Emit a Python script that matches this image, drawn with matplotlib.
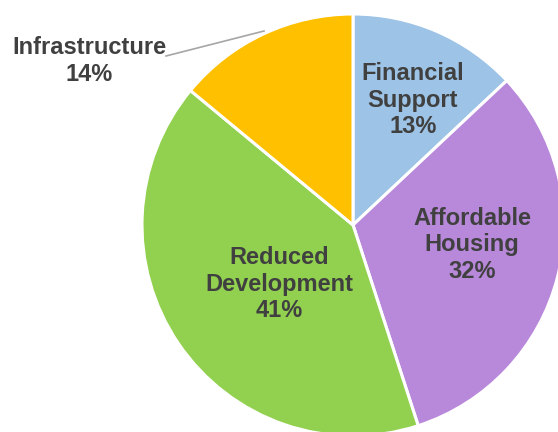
import matplotlib.pyplot as plt

# Shares of each category (percent), drawn clockwise from 12 o'clock
categorias = ["Financial\nSupport", "Affordable\nHousing", "Reduced\nDevelopment", "Infrastructure"]
valores = [13, 32, 41, 14]
cores = ["#9DC3E6", "#B888DA", "#92D050", "#FFC000"]

plt.rcParams['font.family'] = ['Liberation Sans', 'DejaVu Sans']

fig = plt.figure(figsize=(5.58, 4.32), dpi=100)
ax = fig.add_axes([0, 0, 1, 1])

centro = (353, 207)
raio = 211
ax.pie(valores, colors=cores, startangle=90, counterclock=False,
       center=centro, radius=raio, frame=True,
       wedgeprops=dict(edgecolor='white', linewidth=2.2))
ax.set_xlim(0, 558)
ax.set_ylim(0, 432)
ax.set_aspect('equal')
ax.axis('off')

# Label positions in pixel coordinates (y measured from the bottom)
posicoes = [(413, 332), (472, 187), (279, 148), (89, 371)]
for (x, y), nome, v in zip(posicoes, categorias, valores):
    ax.text(x, y, f"{nome}\n{v}%", ha='center', va='center', fontsize=17,
            fontweight='bold', color='#404040', linespacing=1.19)

# Leader line for the outside label
ax.plot([166, 264], [432 - 56, 432 - 31], color='#A6A6A6', linewidth=1.2)

fig.savefig("out.png", dpi=100)
